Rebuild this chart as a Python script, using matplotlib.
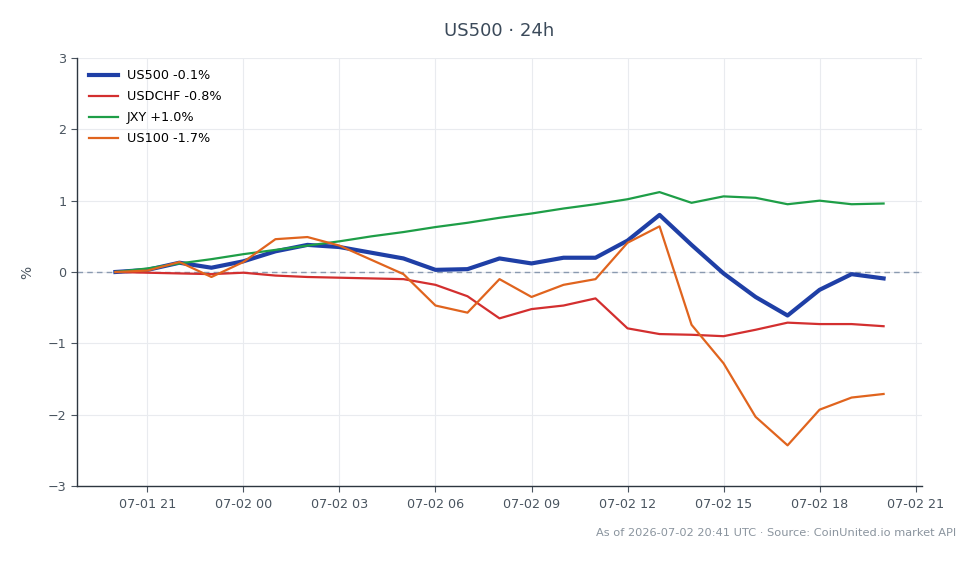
import matplotlib
matplotlib.use("Agg")
import matplotlib.pyplot as plt
import matplotlib.dates as mdates
import numpy as np
import pandas as pd

times = pd.date_range("2026-07-01 20:00", "2026-07-02 20:00", freq="h")

us500 = [0.00, 0.03, 0.13, 0.06, 0.15, 0.29, 0.38, 0.35, 0.27, 0.19, 0.03, 0.04,
         0.19, 0.12, 0.20, 0.20, 0.44, 0.80, 0.38, -0.02, -0.35, -0.61, -0.25, -0.03, -0.09]
usdchf = [0.00, -0.01, -0.02, -0.03, -0.01, -0.05, -0.07, -0.08, -0.09, -0.10, -0.18, -0.34,
          -0.65, -0.52, -0.47, -0.37, -0.79, -0.87, -0.88, -0.90, -0.81, -0.71, -0.73, -0.73, -0.76]
jxy = [0.00, 0.05, 0.12, 0.18, 0.25, 0.31, 0.37, 0.43, 0.50, 0.56, 0.63, 0.69,
       0.76, 0.82, 0.89, 0.95, 1.02, 1.12, 0.97, 1.06, 1.04, 0.95, 1.00, 0.95, 0.96]
us100 = [0.00, 0.02, 0.14, -0.07, 0.14, 0.46, 0.49, 0.37, 0.17, -0.03, -0.47, -0.57,
         -0.10, -0.35, -0.18, -0.10, 0.41, 0.64, -0.74, -1.28, -2.03, -2.43, -1.93, -1.76, -1.71]

labels = ["US500 -0.1%", "USDCHF -0.8%", "JXY +1.0%", "US100 -1.7%"]
colors = ["#1f3fa6", "#d32f2f", "#1e9e47", "#e0641e"]
widths = [3.0, 1.6, 1.6, 1.6]

title = "US500 · 24h"
footer = "As of 2026-07-02 20:41 UTC · Source: CoinUnited.io market API"

plt.rcParams['font.family'] = ['DejaVu Sans']
fig = plt.figure(figsize=(9.8, 5.64), dpi=100)
ax = fig.add_axes([77/980, 1-486/564, (922-77)/980, (486-58)/564])

for ys, lab, c, w in zip([us500, usdchf, jxy, us100], labels, colors, widths):
    ax.plot(times, ys, color=c, lw=w, label=lab, solid_joinstyle="round")

ax.axhline(0, color="#8a9ab0", lw=1.0, ls=(0, (4, 3)), zorder=1)
ax.set_ylim(-3, 3)
ax.set_yticks([-3, -2, -1, 0, 1, 2, 3])
ax.xaxis.set_major_locator(mdates.HourLocator(byhour=[0, 3, 6, 9, 12, 15, 18, 21]))
ax.xaxis.set_major_formatter(mdates.DateFormatter("%m-%d %H"))
ax.set_xlim(times[0] - pd.Timedelta(hours=1.2), times[-1] + pd.Timedelta(hours=1.2))

ax.grid(True, color="#e9ebef", lw=0.8)
ax.set_axisbelow(True)
for s in ["top", "right"]:
    ax.spines[s].set_visible(False)
for s in ["left", "bottom"]:
    ax.spines[s].set_color("#2d3640")
    ax.spines[s].set_linewidth(1.0)
ax.tick_params(colors="#4a5560", labelsize=9.2, length=4)
ax.tick_params(axis="x", pad=5)
ax.set_ylabel("%", color="#4a5560", fontsize=10, labelpad=10)

leg = ax.legend(loc="upper left", frameon=False, fontsize=9.2, handlelength=2.3,
                handletextpad=0.7, borderaxespad=0.4, labelspacing=0.62,
                borderpad=0.5)

fig.text(499/980, 1-31/564, title, ha="center", va="center", fontsize=13, color="#3b4a5a")
fig.text(956/980, 1-533/564, footer, ha="right", va="center", fontsize=8.2, color="#8a949e")

fig.savefig("out.png", dpi=100)
